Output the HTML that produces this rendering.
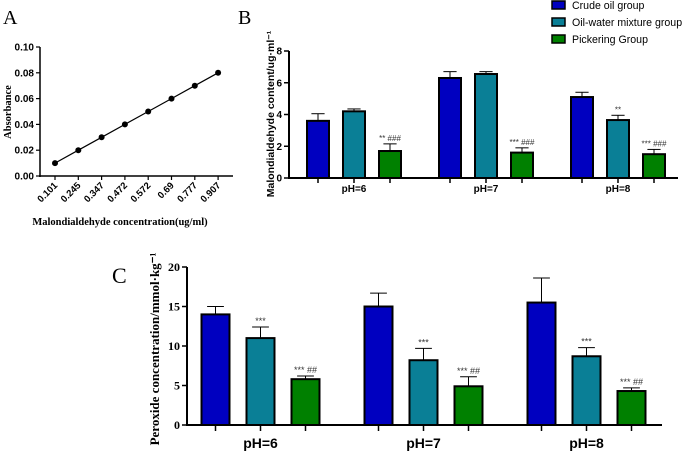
<!DOCTYPE html>
<html><head><meta charset="utf-8"><style>
body{margin:0;background:#fff;}
svg{display:block;}
.s{font-family:"Liberation Sans",sans-serif;font-weight:bold;}
.r{font-family:"Liberation Serif",serif;font-weight:bold;}
</style></head><body>
<svg id="c" width="685" height="451" viewBox="0 0 685 451" xmlns="http://www.w3.org/2000/svg"></svg>
<script>
const aCats=["0.101","0.245","0.347","0.472","0.572","0.69","0.777","0.907"];
const aVals=[0.01,0.02,0.03,0.04,0.05,0.06,0.07,0.08];
const aTicks=[0,0.02,0.04,0.06,0.08,0.10];
const groups=["pH=6","pH=7","pH=8"];
const seriesNames=["Crude oil group","Oil-water mixture group","Pickering Group"];
const bCrude=[3.6,6.3,5.1], bMix=[4.2,6.55,3.65], bPick=[1.7,1.6,1.5];
const bCrudeErr=[4.05,6.7,5.4], bMixErr=[4.35,6.7,3.95], bPickErr=[2.15,1.9,1.8];
const bTicks=[0,2,4,6,8];
const bMixSig=["","","**"], bPickSig=["** ###","*** ###","*** ###"];
const cCrude=[14,15,15.5], cMix=[11,8.2,8.7], cPick=[5.8,4.9,4.3];
const cCrudeErr=[15,16.7,18.6], cMixErr=[12.4,9.7,9.8], cPickErr=[6.2,6.1,4.7];
const cTicks=[0,5,10,15,20];
const cMixSig=["***","***","***"], cPickSig=["*** ##","*** ##","*** ##"];
const colors=["#0000c0","#0a7f96","#008000"];

const svg=document.getElementById('c');const NS="http://www.w3.org/2000/svg";
function el(t,a,txt,name){const e=document.createElementNS(NS,t);for(const k in a)e.setAttribute(k,a[k]);if(txt!==undefined)e.textContent=txt;


svg.appendChild(e);return e;}

// Panel A
el('text',{x:3,y:24,'font-family':'Liberation Serif,serif','font-size':20},'A','panel-a-label');
const ay=v=>176-v/0.10*129, ax=i=>55+i*23.3;
el('line',{x1:40,y1:47,x2:40,y2:177,stroke:'#000','stroke-width':1.5},undefined,'a-y-axis');
el('line',{x1:39,y1:176,x2:233,y2:176,stroke:'#000','stroke-width':1.5},undefined,'a-x-axis');
aTicks.forEach(t=>{el('line',{x1:36,y1:ay(t),x2:40,y2:ay(t),stroke:'#000','stroke-width':1.2},undefined,'a-y-tick');
el('text',{x:34,y:ay(t)+3.5,'text-anchor':'end','font-size':10,class:'s'},t.toFixed(2),'a-y-tick-label');});
let pts=aVals.map((v,i)=>ax(i)+','+ay(v)).join(' ');
el('polyline',{points:pts,fill:'none',stroke:'#000','stroke-width':1.2},undefined,'a-line');
aVals.forEach((v,i)=>{el('circle',{cx:ax(i),cy:ay(v),r:3,fill:'#000'},undefined,'a-point');
el('line',{x1:ax(i),y1:176,x2:ax(i),y2:180,stroke:'#000','stroke-width':1.2},undefined,'a-x-tick');
el('text',{x:ax(i)+3,y:186,'text-anchor':'end','font-size':9.5,class:'s',transform:`rotate(-45 ${ax(i)+3} 186)`},aCats[i],'a-x-tick-label');});
el('text',{x:120,y:225,'text-anchor':'middle','font-size':10.5,class:'r'},'Malondialdehyde concentration(ug/ml)','a-x-title');
el('text',{x:0,y:0,'text-anchor':'middle','font-size':10.5,class:'r',transform:'translate(11,112) rotate(-90)'},'Absorbance','a-y-title');

function bars(cfg){
  const {x0,x1,y0,yTop,max,ticks,vals,errs,sig,xg,bw,step,fs,lab,cls,tickLen,sigfs}=cfg;
  const y=v=>y0-v/max*(y0-yTop);
  el('line',{x1:x0,y1:yTop,x2:x0,y2:y0+1,stroke:'#000','stroke-width':2},undefined,lab+'-y-axis');
  el('line',{x1:x0-1,y1:y0,x2:x1,y2:y0,stroke:'#000','stroke-width':2},undefined,lab+'-x-axis');
  ticks.forEach(t=>{el('line',{x1:x0-5,y1:y(t),x2:x0,y2:y(t),stroke:'#000','stroke-width':1.5},undefined,lab+'-y-tick');
  el('text',{x:x0-7,y:y(t)+fs*0.35,'text-anchor':'end','font-size':fs,class:cls},String(t),lab+'-y-tick-label');});
  groups.forEach((g,gi)=>{
    vals.forEach((sv,si)=>{
      const cx=xg(gi)+(si-1)*step, left=cx-bw/2;
      el('line',{x1:cx,y1:y(errs[si][gi]),x2:cx,y2:y(sv[gi]),stroke:'#000','stroke-width':1},undefined,lab+'-error-bar');
      el('line',{x1:cx-bw*0.3,y1:y(errs[si][gi]),x2:cx+bw*0.3,y2:y(errs[si][gi]),stroke:'#000','stroke-width':1},undefined,lab+'-error-cap');
      el('rect',{x:left,y:y(sv[gi]),width:bw,height:y0-y(sv[gi]),fill:colors[si],stroke:'#000','stroke-width':2},undefined,lab+'-bar');
      el('line',{x1:cx,y1:y0,x2:cx,y2:y0+tickLen,stroke:'#000','stroke-width':1.5},undefined,lab+'-x-tick');
      const s=sig[si]?sig[si][gi]:"";
      if(s) el('text',{x:cx,y:y(errs[si][gi])-3,'text-anchor':'middle','font-size':sigfs,'font-family':'Liberation Sans,sans-serif',fill:'#333'},s,lab+'-significance');
    });
  });
  return y;
}
// Panel B
el('text',{x:238,y:24,'font-family':'Liberation Serif,serif','font-size':20},'B','panel-b-label');
bars({x0:289,x1:678,y0:178,yTop:51,max:8,ticks:bTicks,vals:[bCrude,bMix,bPick],errs:[bCrudeErr,bMixErr,bPickErr],sig:[null,bMixSig,bPickSig],
 xg:i=>354+i*132,bw:22,step:36,fs:10,lab:'b',cls:'s',tickLen:5,sigfs:8});
groups.forEach((g,i)=>el('text',{x:354+i*132,y:192,'text-anchor':'middle','font-size':10,class:'s'},g,'b-x-tick-label'));
el('text',{x:0,y:0,'text-anchor':'middle','font-size':10.5,class:'s',transform:'translate(274,114) rotate(-90)'},'Malondialdehyde content/ug·ml⁻¹','b-y-title');
seriesNames.forEach((n,i)=>{el('rect',{x:552,y:1+i*17,width:13,height:8,fill:colors[i],stroke:'#000','stroke-width':1.5},undefined,'legend-swatch');
el('text',{x:572,y:9+i*17,'font-size':10.6,'font-family':'Liberation Sans,sans-serif'},n,'legend-entry');});

// Panel C
el('text',{x:112,y:283,'font-family':'Liberation Serif,serif','font-size':22},'C','panel-c-label');
bars({x0:187,x1:662,y0:425,yTop:267,max:20,ticks:cTicks,vals:[cCrude,cMix,cPick],errs:[cCrudeErr,cMixErr,cPickErr],sig:[null,cMixSig,cPickSig],
 xg:i=>260.5+i*163,bw:28,step:45,fs:12,lab:'c',cls:'r',tickLen:6,sigfs:9});
groups.forEach((g,i)=>el('text',{x:260.5+i*163,y:448,'text-anchor':'middle','font-size':14,class:'s'},g,'c-x-tick-label'));
el('text',{x:0,y:0,'text-anchor':'middle','font-size':13,class:'r',transform:'translate(159,349) rotate(-90)'},'Peroxide concentration/mmol·kg⁻¹','c-y-title');
</script>
</body></html>
